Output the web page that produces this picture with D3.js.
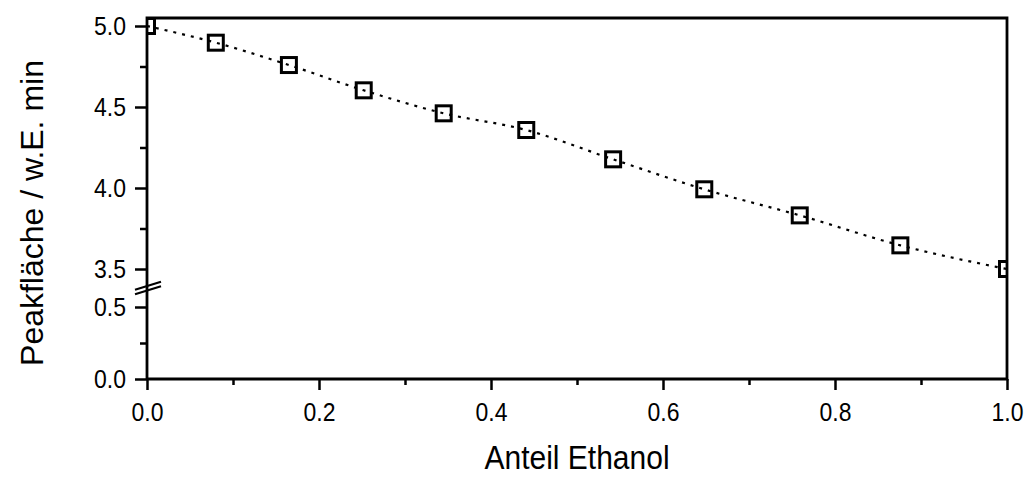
<!DOCTYPE html>
<html>
<head>
<meta charset="utf-8">
<script src="https://cdn.jsdelivr.net/npm/d3@7"></script>
<style>
  html, body { margin: 0; padding: 0; background: #fff; }
  svg { display: block; }
  text { font-family: "Liberation Sans", Arial, sans-serif; fill: #000; }
</style>
</head>
<body>
<svg id="chart" width="1024" height="477"></svg>
<script>
// ---- data ----
const xValues = [0.0, 0.080, 0.165, 0.252, 0.345, 0.441, 0.542, 0.648, 0.759, 0.876, 1.0];
const yValues = [5.00, 4.897, 4.759, 4.603, 4.461, 4.358, 4.177, 3.992, 3.831, 3.646, 3.50];
const xMajorTicks = [0.0, 0.2, 0.4, 0.6, 0.8, 1.0];
const xMinorTicks = [0.1, 0.3, 0.5, 0.7, 0.9];
const yUpperMajor = [3.5, 4.0, 4.5, 5.0];
const yUpperMinor = [3.75, 4.25, 4.75];
const yLowerMajor = [0.0, 0.5];
const yLowerMinor = [0.25];
const xTitle = "Anteil Ethanol";
const yTitle = "Peakfläche / w.E. min";

(function () {
// ---- layout ----
const pL = 147, pR = 1007, pT = 18, pB = 379, breakY = 288;
const svg = d3.select("#chart");

const x = d3.scaleLinear().domain([0, 1]).range([pL, pR]);
const yUp = d3.scaleLinear().domain([3.5, 5.0]).range([269, 26]);
const yLo = d3.scaleLinear().domain([0, 0.5]).range([pB, 307]);

const fmt = d3.format(".1f");
const TS = 1.15; // vertical stretch of tick labels

// clip for data
svg.append("defs").append("clipPath").attr("id", "plotclip")
  .append("rect").attr("x", pL).attr("y", pT).attr("width", pR - pL).attr("height", breakY - pT);

// x axis
const xAxis = svg.append("g").attr("transform", `translate(0,${pB})`)
  .call(d3.axisBottom(x).tickValues(xMajorTicks).tickFormat(fmt).tickSize(11).tickPadding(10));
xAxis.select(".domain").remove();
xAxis.selectAll("line").attr("stroke", "#000").attr("stroke-width", 2.5);
xAxis.selectAll("text").style("font-size", "23px")
  .attr("y", null).attr("dy", "0.71em")
  .attr("transform", `translate(0,23) scale(1,${TS})`);

const xMinor = svg.append("g").attr("transform", `translate(0,${pB})`)
  .call(d3.axisBottom(x).tickValues(xMinorTicks).tickFormat("").tickSize(6));
xMinor.select(".domain").remove();
xMinor.selectAll("line").attr("stroke", "#000").attr("stroke-width", 2.5);

// y axes (upper and lower)
function yAxisPart(scale, major, minor) {
  const g = svg.append("g").attr("transform", `translate(${pL},0)`)
    .call(d3.axisLeft(scale).tickValues(major).tickFormat(fmt).tickSize(12).tickPadding(9));
  g.select(".domain").remove();
  g.selectAll("line").attr("stroke", "#000").attr("stroke-width", 2.5);
  g.selectAll("text").style("font-size", "23px")
    .attr("x", null).attr("dy", "0.32em")
    .attr("transform", `translate(-21,0) scale(1,${TS})`);
  const m = svg.append("g").attr("transform", `translate(${pL},0)`)
    .call(d3.axisLeft(scale).tickValues(minor).tickFormat("").tickSize(7));
  m.select(".domain").remove();
  m.selectAll("line").attr("stroke", "#000").attr("stroke-width", 2.5);
}
yAxisPart(yUp, yUpperMajor, yUpperMinor);
yAxisPart(yLo, yLowerMajor, yLowerMinor);

// frame
svg.append("path")
  .attr("d", `M${pL},${pB}V${pT}H${pR}V${pB}H${pL}`)
  .attr("fill", "none").attr("stroke", "#000").attr("stroke-width", 2.8)
  .attr("stroke-linejoin", "miter");

// axis break marks
const brk = svg.append("g").attr("stroke", "#000").attr("stroke-width", 2.2);
[-2.2, 2.2].forEach(off => {
  brk.append("line")
    .attr("x1", pL - 12).attr("y1", breakY + 4 + off)
    .attr("x2", pL + 14).attr("y2", breakY - 4 + off);
});

// data
const pts = xValues.map((v, i) => ({ x: v, y: yValues[i] }));
const plot = svg.append("g").attr("clip-path", "url(#plotclip)");

plot.append("path")
  .datum(pts)
  .attr("d", d3.line().x(d => x(d.x)).y(d => yUp(d.y)).curve(d3.curveMonotoneX))
  .attr("fill", "none").attr("stroke", "#000").attr("stroke-width", 2.2)
  .attr("stroke-dasharray", "3,6");

const s = 15;
plot.selectAll("rect.pt").data(pts).join("rect")
  .attr("class", "pt")
  .attr("x", d => x(d.x) - s / 2).attr("y", d => yUp(d.y) - s / 2)
  .attr("width", s).attr("height", s)
  .attr("fill", "none").attr("stroke", "#000").attr("stroke-width", 3);

// titles
svg.append("text")
  .attr("transform", `translate(${(pL + pR) / 2},469) scale(1,1.08)`)
  .attr("text-anchor", "middle").style("font-size", "30px")
  .text(xTitle);

svg.append("text")
  .attr("transform", `translate(43,213) rotate(-90)`)
  .attr("text-anchor", "middle").style("font-size", "32px")
  .text(yTitle);
})();
</script>
</body>
</html>
